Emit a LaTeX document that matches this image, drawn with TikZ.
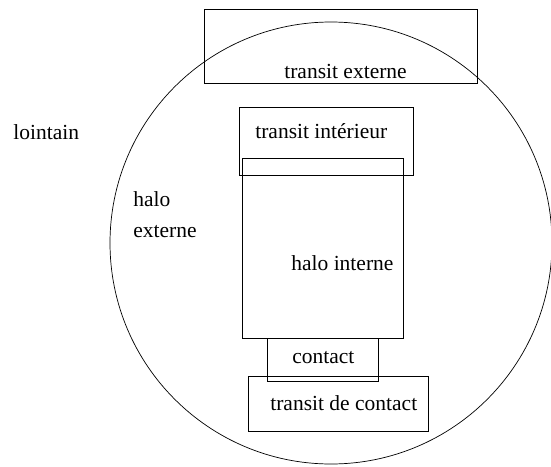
\documentclass[tikz,border=0pt]{standalone}
\usepackage{fontspec}
\setmainfont{Liberation Serif}
\usepackage{tikz}

\begin{document}
\begin{tikzpicture}[x=1pt, y=-1pt, line width=0.7pt,
	boite/.style={rectangle, draw, inner sep=0pt},
	texte/.style={anchor=base west, inner sep=0pt, font=\fontsize{21.5}{31}\selectfont}]
\useasboundingbox (0, 0) rectangle (551, 466);

\path	(331, 243)		node(halo_externe)			[circle, draw, inner sep=0pt, minimum size=442pt]	{}
		(340.5, 46)		node(transit_externe)		[boite, minimum width=273pt, minimum height=74pt]	{}
		(326, 141)		node(transit_interieur)		[boite, minimum width=174pt, minimum height=68pt]	{}
		(322.5, 248)	node(halo_interne)			[boite, minimum width=161pt, minimum height=180pt]	{}
		(322.5, 359.5)	node(contact)				[boite, minimum width=111pt, minimum height=43pt]	{}
		(338, 403.5)	node(transit_contact)		[boite, minimum width=180pt, minimum height=55pt]	{};

\path	(13, 139)		node(txt_lointain)			[texte]		{lointain}
		(133, 206)		node(txt_halo)				[texte]		{halo}
		(133, 237)		node(txt_externe)			[texte]		{externe}
		(284, 78)		node(txt_transit_externe)	[texte]		{transit externe}
		(255, 138)		node(txt_transit_interieur)	[texte]		{transit intérieur}
		(291, 270)		node(txt_halo_interne)		[texte]		{halo interne}
		(292, 363)		node(txt_contact)			[texte]		{contact}
		(270, 410)		node(txt_transit_contact)	[texte]		{transit de contact};
\end{tikzpicture}
\end{document}
